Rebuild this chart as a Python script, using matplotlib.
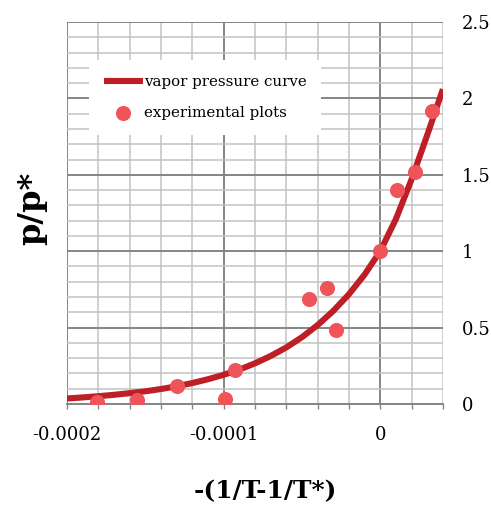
import matplotlib
matplotlib.use("Agg")
import matplotlib.pyplot as plt
from matplotlib.ticker import MultipleLocator, FixedLocator

# experimental points
exp_x = [-0.000181, -0.000155, -0.00013, -0.000099, -0.000093,
         -0.0000454, -0.0000341, -0.0000283, 0.0, 0.0000107, 0.0000219, 0.000033]
exp_y = [0.01, 0.026, 0.119, 0.033, 0.224,
         0.69, 0.759, 0.484, 1.0, 1.40, 1.518, 1.92]

# vapor pressure curve, sampled from the chart every 1e-5
curve_x = [-0.0002, -0.00019, -0.00018, -0.00017, -0.00016, -0.00015, -0.00014,
           -0.00013, -0.00012, -0.00011, -0.0001, -0.00009, -0.00008, -0.00007,
           -0.00006, -0.00005, -0.00004, -0.00003, -0.00002, -0.00001, 0.0,
           0.00001, 0.00002, 0.00003, 0.00004]
curve_y = [0.036, 0.043, 0.051, 0.060, 0.071, 0.083, 0.098,
           0.116, 0.137, 0.162, 0.191, 0.225, 0.266, 0.314,
           0.370, 0.437, 0.516, 0.609, 0.718, 0.847, 1.0,
           1.21, 1.47, 1.76, 2.06]

x_ticks = [-0.0002, -0.0001, 0]
x_tick_labels = ["-0.0002", "-0.0001", "0"]
y_ticks = [0, 0.5, 1, 1.5, 2, 2.5]
y_tick_labels = ["0", "0.5", "1", "1.5", "2", "2.5"]

plt.rcParams["font.family"] = ["DejaVu Serif"]

fig = plt.figure(figsize=(4.91, 5.09), dpi=100)
ax = fig.add_axes([0.1365, 0.2063, 0.7655, 0.7505])

ax.set_xlim(-0.0002, 0.00004)
ax.set_ylim(0, 2.5)

# grid
ax.xaxis.set_major_locator(FixedLocator(x_ticks))
ax.xaxis.set_minor_locator(MultipleLocator(0.00002))
ax.yaxis.set_major_locator(FixedLocator(y_ticks))
ax.yaxis.set_minor_locator(MultipleLocator(0.1))
ax.grid(True, which="minor", color="#c2c2c2", linewidth=1.1)
ax.grid(True, which="major", color="#858585", linewidth=1.4)
ax.set_axisbelow(True)

ax.plot(curve_x, curve_y, color="#be1e26", linewidth=4.4, solid_capstyle="butt",
        label="vapor pressure curve", zorder=3)
ax.scatter(exp_x, exp_y, s=118, color="#ef5459", linewidths=0,
           label="experimental plots", zorder=4)

for side in ["top", "left", "right"]:
    ax.spines[side].set_visible(False)
ax.spines["bottom"].set_color("#858585")
ax.spines["bottom"].set_linewidth(1.4)

ax.set_xticks(x_ticks)
ax.set_xticklabels(x_tick_labels)
ax.tick_params(axis="x", which="both", direction="out", length=3.5, width=1,
               color="#858585", labelsize=13, pad=12)
ax.yaxis.tick_right()
ax.set_yticks(y_ticks)
ax.set_yticklabels(y_tick_labels)
ax.tick_params(axis="y", which="both", length=0, labelsize=13, pad=13.5)

fig.text(0.065, 0.59, "p/p*", rotation=90, ha="center", va="center",
         fontsize=23, fontweight="bold")
fig.text(0.54, 0.035, "-(1/T-1/T*)", ha="center", va="center",
         fontsize=18, fontweight="bold")

leg = ax.legend(loc="upper left", bbox_to_anchor=(0.058, 0.9), fontsize=10.8,
                frameon=True, fancybox=False, framealpha=1, edgecolor="white",
                handlelength=2.6, handletextpad=0.05, borderpad=1.0,
                labelspacing=1.1, borderaxespad=0)
leg.get_frame().set_linewidth(0)
# push the legend entries right a little inside the white box
leg._legend_box.align = "left"
for child in leg._legend_box.get_children():
    child.pad = 0

fig.savefig("out.png", dpi=100)
